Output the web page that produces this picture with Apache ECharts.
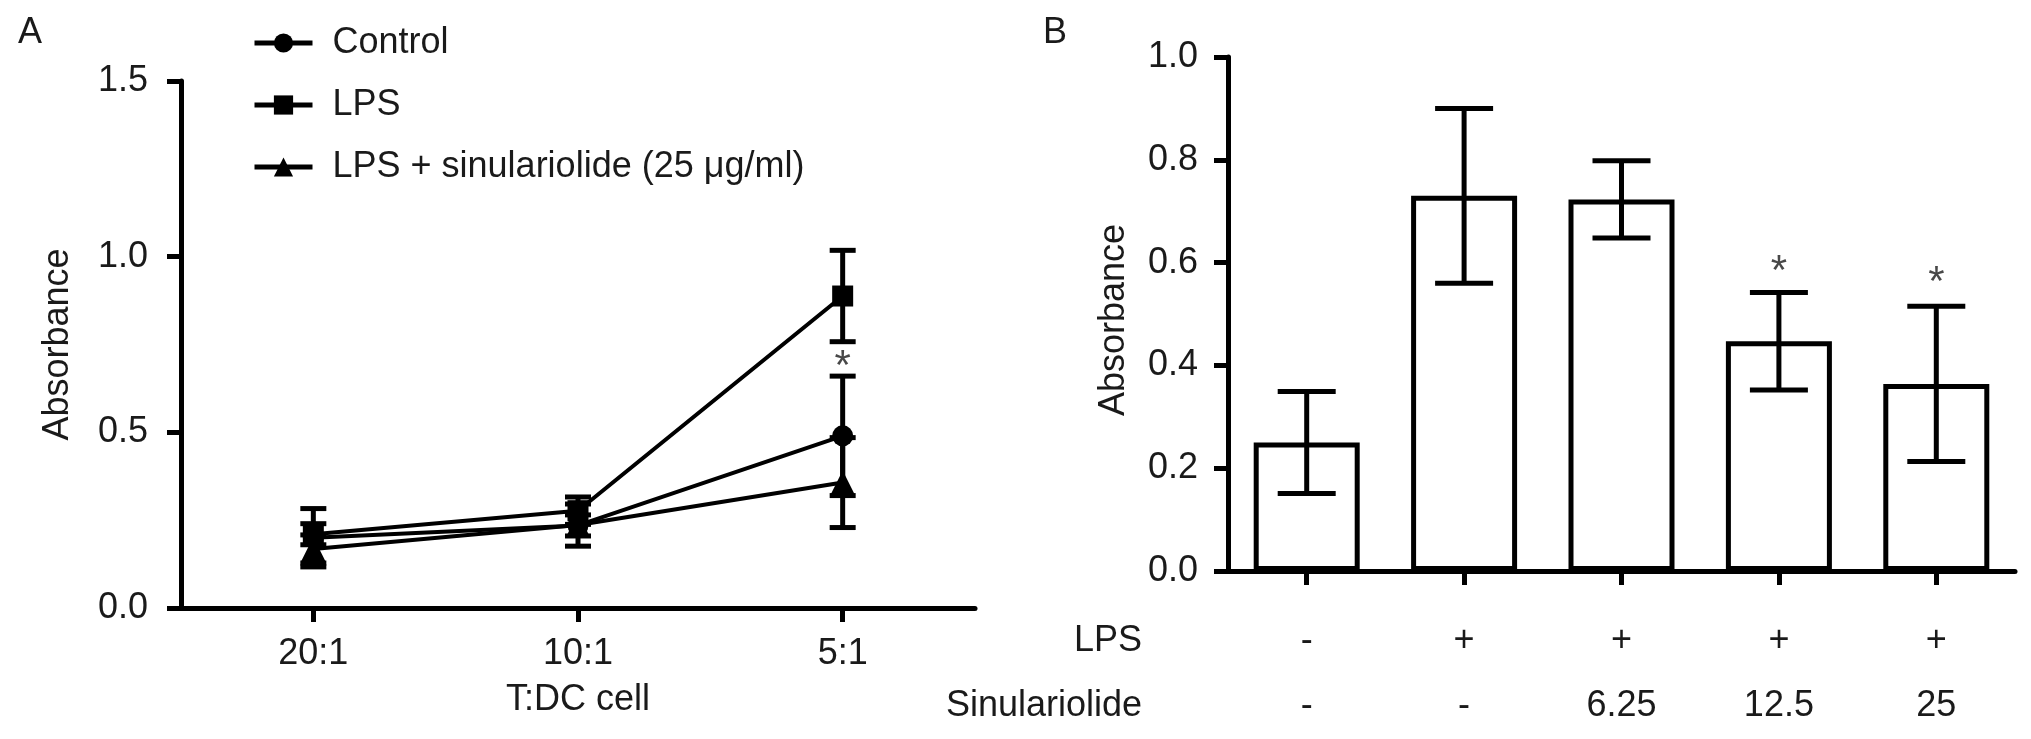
<!DOCTYPE html>
<html>
<head>
    <meta charset="utf-8">
    <title>Absorbance</title>
    <script src="https://cdn.jsdelivr.net/npm/echarts@6/dist/echarts.min.js"></script>
    <style>
        html, body { margin: 0; padding: 0; background: #fff; }
    </style>
</head>
<body>
    <div id="main" style="width: 2031px;height:739px;"></div>
    <script type="text/javascript">
        // panel A: T:DC ratio
        const ratioLabels = ['20:1', '10:1', '5:1'];
        const controlMean = [0.20, 0.235, 0.49];
        const controlErr = [0.083, 0.03, 0.17];
        const lpsMean = [0.21, 0.277, 0.888];
        const lpsErr = [0.03, 0.039, 0.13];
        const sinMean = [0.168, 0.236, 0.357];
        const sinErr = [0.04, 0.06, 0.128];
        const starA = [[3, 0.685]];

        // panel B: bars
        const groupLps = ['-', '+', '+', '+', '+'];
        const groupSin = ['-', '-', '6.25', '12.5', '25'];
        const barMean = [0.25, 0.73, 0.723, 0.447, 0.364];
        const barErr = [0.099, 0.17, 0.075, 0.095, 0.151];
        const starB = [null, null, null, 0.58, 0.56];

        const font = 'Liberation Sans, Arial, sans-serif';
        const ink = '#1a1a1a';
        const fs = 36;

        // [x, low, high] for the error bar series
        function errData(xs, mean, err) {
            return mean.map((m, i) => [xs[i], m - err[i], m + err[i]]);
        }

        function errorBar(capHalf, w) {
            return function (params, api) {
                let top = api.coord([api.value(0), api.value(2)]);
                let bot = api.coord([api.value(0), api.value(1)]);
                let st = { stroke: '#000', lineWidth: w };
                return {
                    type: 'group',
                    children: [
                        { type: 'line', shape: { x1: top[0], y1: top[1], x2: bot[0], y2: bot[1] }, style: st },
                        { type: 'line', shape: { x1: top[0] - capHalf, y1: top[1], x2: top[0] + capHalf, y2: top[1] }, style: st },
                        { type: 'line', shape: { x1: bot[0] - capHalf, y1: bot[1], x2: bot[0] + capHalf, y2: bot[1] }, style: st }
                    ]
                };
            };
        }

        let xs = [1, 2, 3];
        let idx = [0, 1, 2, 3, 4];

        function lineSeries(name, mean, symbol) {
            return {
                name: name,
                type: 'line',
                xAxisIndex: 0,
                yAxisIndex: 0,
                data: mean.map((m, i) => [xs[i], m]),
                symbol: symbol,
                symbolSize: symbol === 'triangle' ? 24 : 21,
                showSymbol: true,
                lineStyle: { color: '#000', width: 4 },
                itemStyle: { color: '#000' },
                z: 3
            };
        }

        let axisLine = { show: true, lineStyle: { color: '#000', width: 5 } };
        let axisTick = { show: true, length: 14, lineStyle: { color: '#000', width: 5 } };
        let labelStyle = { color: ink, fontSize: fs, fontFamily: font };
        let starStyle = { show: true, position: 'inside', formatter: '*', color: ink, fontSize: 42, fontFamily: font };

        let myChart = echarts.init(document.getElementById('main'), null, { renderer: 'canvas' });

        let option = {
            backgroundColor: '#fff',
            animation: false,
            title: [
                { text: 'A', left: 13, top: 10, textStyle: { fontSize: fs, fontWeight: 'normal', color: ink, fontFamily: font } },
                { text: 'B', left: 1038, top: 10, textStyle: { fontSize: fs, fontWeight: 'normal', color: ink, fontFamily: font } }
            ],
            legend: {
                orient: 'vertical',
                left: 247,
                top: 19,
                itemWidth: 58,
                itemHeight: 24,
                itemGap: 24,
                lineStyle: { width: 5 },
                data: ['Control', 'LPS', 'LPS + sinulariolide (25 μg/ml)'],
                textStyle: { color: ink, fontSize: fs, fontFamily: font, lineHeight: 38, padding: [0, 0, 0, 15] }
            },
            grid: [
                { left: 181, top: 81, width: 794, height: 527 },
                { left: 1228, top: 57, width: 787, height: 521 }
            ],
            xAxis: [
                {
                    gridIndex: 0,
                    type: 'value',
                    min: 0.5,
                    max: 3.5,
                    splitLine: { show: false },
                    axisLine: axisLine,
                    axisTick: { show: true, length: 14, lineStyle: { color: '#000', width: 5 }, customValues: xs },
                    axisLabel: Object.assign({ margin: 28, customValues: xs, formatter: v => ratioLabels[Math.round(v) - 1] }, labelStyle),
                    name: 'T:DC cell',
                    nameLocation: 'middle',
                    nameGap: 74,
                    nameTextStyle: labelStyle
                },
                {
                    gridIndex: 1,
                    type: 'category',
                    data: idx.map(String),
                    axisLine: axisLine,
                    axisTick: { show: true, alignWithLabel: true, length: 14, lineStyle: { color: '#000', width: 5 } },
                    axisLabel: Object.assign({ margin: 38, lineHeight: 65, formatter: (v, i) => groupLps[i] + '\n' + groupSin[i] }, labelStyle),
                    name: 'LPS\nSinulariolide',
                    nameLocation: 'start',
                    nameGap: -12,
                    nameTextStyle: Object.assign({ align: 'right', verticalAlign: 'top', lineHeight: 65, padding: [38, 0, 0, 0] }, labelStyle)
                }
            ],
            yAxis: [
                {
                    gridIndex: 0,
                    type: 'value',
                    min: 0,
                    max: 1.5,
                    interval: 0.5,
                    splitLine: { show: false },
                    axisLine: axisLine,
                    axisTick: axisTick,
                    axisLabel: Object.assign({ margin: 33, formatter: v => v.toFixed(1) }, labelStyle),
                    name: 'Absorbance',
                    nameLocation: 'middle',
                    nameGap: 105,
                    nameTextStyle: labelStyle
                },
                {
                    gridIndex: 1,
                    type: 'value',
                    min: 0,
                    max: 1.0,
                    interval: 0.2,
                    splitLine: { show: false },
                    axisLine: axisLine,
                    axisTick: axisTick,
                    axisLabel: Object.assign({ margin: 30, formatter: v => v.toFixed(1) }, labelStyle),
                    name: 'Absorbance',
                    nameLocation: 'middle',
                    nameGap: 96,
                    nameTextStyle: Object.assign({ padding: [0, 12, 0, 0] }, labelStyle)
                }
            ],
            series: [
                lineSeries('Control', controlMean, 'circle'),
                lineSeries('LPS', lpsMean, 'rect'),
                lineSeries('LPS + sinulariolide (25 μg/ml)', sinMean, 'triangle'),
                { type: 'custom', xAxisIndex: 0, yAxisIndex: 0, renderItem: errorBar(13, 5), data: errData(xs, controlMean, controlErr), z: 4 },
                { type: 'custom', xAxisIndex: 0, yAxisIndex: 0, renderItem: errorBar(13, 5), data: errData(xs, lpsMean, lpsErr), z: 4 },
                { type: 'custom', xAxisIndex: 0, yAxisIndex: 0, renderItem: errorBar(13, 5), data: errData(xs, sinMean, sinErr), z: 4 },
                {
                    type: 'scatter', xAxisIndex: 0, yAxisIndex: 0, data: starA, symbolSize: 1,
                    itemStyle: { color: 'transparent' },
                    label: starStyle
                },
                {
                    type: 'bar', xAxisIndex: 1, yAxisIndex: 1, data: barMean, barWidth: 106,
                    itemStyle: { color: '#fff', borderColor: '#000', borderWidth: 5 }
                },
                { type: 'custom', xAxisIndex: 1, yAxisIndex: 1, renderItem: errorBar(29, 5), data: errData(idx, barMean, barErr), z: 4 },
                {
                    type: 'scatter', xAxisIndex: 1, yAxisIndex: 1, data: starB, symbolSize: 1,
                    itemStyle: { color: 'transparent' },
                    label: starStyle
                }
            ]
        };

        myChart.setOption(option);
    </script>
</body>
</html>
